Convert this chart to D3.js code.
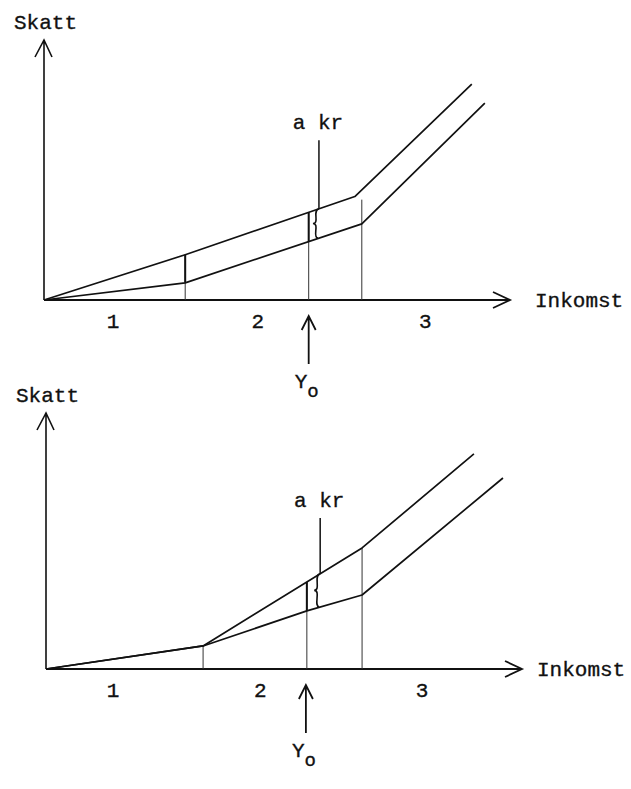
<!DOCTYPE html>
<html>
<head>
<meta charset="utf-8">
<script src="https://cdn.jsdelivr.net/npm/d3@7"></script>
<style>
  body { margin: 0; background: #fff; }
  text { font-family: "Liberation Mono", "DejaVu Sans Mono", monospace; font-size: 21px; fill: #111; stroke: #111; stroke-width: 0.35; }
</style>
</head>
<body>
<div id="chart"></div>
<script>
// income zones (x axis labels)
const zoneLabels = ["1", "2", "3"];
const zoneCentersTop = [14.8, 45.9, 81.8];
const zoneCentersBottom = [14.1, 45.0, 79.0];

// tax curves, [income, tax] in axis units 0-100
const upperTop = [[0, 0], [30.3, 17.4], [66.7, 39.8], [91.8, 83.0]];
const lowerTop = [[0, 0], [30.3, 6.6], [68.2, 29.3], [94.6, 75.7]];
const upperBottom = [[0, 0], [33.0, 9.0], [66.4, 47.3], [89.9, 84.0]];
const lowerBottom = [[0, 0], [33.0, 9.0], [54.8, 22.7], [66.4, 28.9], [96.0, 74.6]];

// thin guide lines from the axis: x and top
const guideXTop = [30.3, 56.8, 68.2];
const guideEndTop = [17.4, 33.6, 38.6];
const guideXBottom = [33.0, 54.8, 66.4];
const guideEndBottom = [9.0, 33.6, 47.3];

// steps drawn bold between the curves
const stepXTop = [30.3, 56.8];
const stepXBottom = [54.8];

// Y0 income level and the "a kr" pointer
const y0Top = 56.8, y0Bottom = 54.6;
const pointerXTop = 59.0, pointerXBottom = 57.6;
const pointerFromTop = 61.4, pointerFromBottom = 59.0;

const axisLabelX = "Inkomst";
const axisLabelY = "Skatt";
const gapLabel = "a kr";

const W = 631, H = 789;

const svg = d3.select("#chart")
    .append("svg")
    .attr("width", W)
    .attr("height", H);

const panels = [
    { ox: 44, oy: 300, xLen: 466, yLen: 260, upper: upperTop, lower: lowerTop,
      zones: zoneCentersTop, guideX: guideXTop, guideEnd: guideEndTop, steps: stepXTop,
      y0: y0Top, pointerX: pointerXTop, pointerFrom: pointerFromTop, xLabelAt: 535 },
    { ox: 46, oy: 669, xLen: 476, yLen: 256, upper: upperBottom, lower: lowerBottom,
      zones: zoneCentersBottom, guideX: guideXBottom, guideEnd: guideEndBottom, steps: stepXBottom,
      y0: y0Bottom, pointerX: pointerXBottom, pointerFrom: pointerFromBottom, xLabelAt: 537 }
];

// y value of a polyline at x
function valueAt(pts, x) {
    const i = Math.max(1, Math.min(pts.length - 1, d3.bisector(d => d[0]).left(pts, x)));
    const a = pts[i - 1], b = pts[i];
    return a[1] + (b[1] - a[1]) * (x - a[0]) / (b[0] - a[0]);
}

panels.forEach(p => {
    const g = svg.append("g").attr("transform", "translate(" + p.ox + "," + p.oy + ")");

    const x = d3.scaleLinear().domain([0, 100]).range([0, p.xLen]);
    const y = d3.scaleLinear().domain([0, 100]).range([0, -p.yLen]);

    const line = d3.line()
        .x(d => x(d[0]))
        .y(d => y(d[1]));

    // axes with open arrow heads
    g.append("path")
        .attr("d", `M${x(0)},${y(0)}L${x(100)},${y(0)}M${x(100) - 17},${y(0) - 8}L${x(100)},${y(0)}L${x(100) - 17},${y(0) + 8}`)
        .attr("fill", "none").attr("stroke", "#111").attr("stroke-width", 1.8);
    g.append("path")
        .attr("d", `M${x(0)},${y(0)}L${x(0)},${y(100)}M${x(0) - 9},${y(100) + 17}L${x(0)},${y(100)}L${x(0) + 8},${y(100) + 17}`)
        .attr("fill", "none").attr("stroke", "#111").attr("stroke-width", 1.6);

    g.append("text")
        .attr("x", p.xLabelAt - p.ox)
        .attr("y", y(0) + 7)
        .text(axisLabelX);
    g.append("text")
        .attr("x", -30)
        .attr("y", y(100) - 11)
        .text(axisLabelY);

    g.selectAll("text.zone")
        .data(zoneLabels)
        .enter()
        .append("text")
        .attr("class", "zone")
        .attr("text-anchor", "middle")
        .attr("x", (d, i) => x(p.zones[i]))
        .attr("y", y(0) + 28)
        .text(d => d);

    // thin guides
    g.selectAll("line.guide")
        .data(p.guideX)
        .enter()
        .append("line")
        .attr("class", "guide")
        .attr("x1", d => x(d)).attr("x2", d => x(d))
        .attr("y1", y(0))
        .attr("y2", (d, i) => y(p.guideEnd[i]))
        .attr("stroke", "#333").attr("stroke-width", 1);

    // bold steps between the curves
    g.selectAll("line.step")
        .data(p.steps)
        .enter()
        .append("line")
        .attr("class", "step")
        .attr("x1", d => x(d)).attr("x2", d => x(d))
        .attr("y1", d => y(valueAt(p.lower, d)))
        .attr("y2", d => y(valueAt(p.upper, d)))
        .attr("stroke", "#111").attr("stroke-width", 2);

    g.append("path")
        .datum(p.upper)
        .attr("fill", "none")
        .attr("stroke", "#111")
        .attr("stroke-width", 1.7)
        .attr("stroke-linejoin", "round")
        .attr("d", line);

    g.append("path")
        .datum(p.lower)
        .attr("fill", "none")
        .attr("stroke", "#111")
        .attr("stroke-width", 1.7)
        .attr("stroke-linejoin", "round")
        .attr("d", line);

    // "a kr" pointer and brace
    const px = x(p.pointerX);
    const yU = y(valueAt(p.upper, p.pointerX));
    const yL = y(valueAt(p.lower, p.pointerX));
    const yM = (yU + yL) / 2;
    g.append("line")
        .attr("x1", px).attr("x2", px)
        .attr("y1", y(p.pointerFrom))
        .attr("y2", yU)
        .attr("stroke", "#111").attr("stroke-width", 1.5);
    g.append("path")
        .attr("d", `M${px},${yU}C${px - 7},${yU + 1} ${px + 1},${yM} ${px - 6},${yM}C${px + 1},${yM} ${px - 7},${yL - 1} ${px - 1},${yL}`)
        .attr("fill", "none").attr("stroke", "#111").attr("stroke-width", 1.6);
    g.append("text")
        .attr("text-anchor", "middle")
        .attr("x", px - 1)
        .attr("y", y(p.pointerFrom) - 11)
        .text(gapLabel);

    // Y0 arrow under the axis
    const yx = x(p.y0);
    g.append("path")
        .attr("d", `M${yx},${y(0) + 64}L${yx},${y(0) + 16}M${yx - 7},${y(0) + 30}L${yx},${y(0) + 16}L${yx + 7},${y(0) + 30}`)
        .attr("fill", "none").attr("stroke", "#111").attr("stroke-width", 1.8);
    const t = g.append("text")
        .attr("x", yx - 14)
        .attr("y", y(0) + 88);
    t.append("tspan").text("Y");
    t.append("tspan").attr("dy", 9).attr("font-size", 19).text("o");
});
</script>
</body>
</html>
